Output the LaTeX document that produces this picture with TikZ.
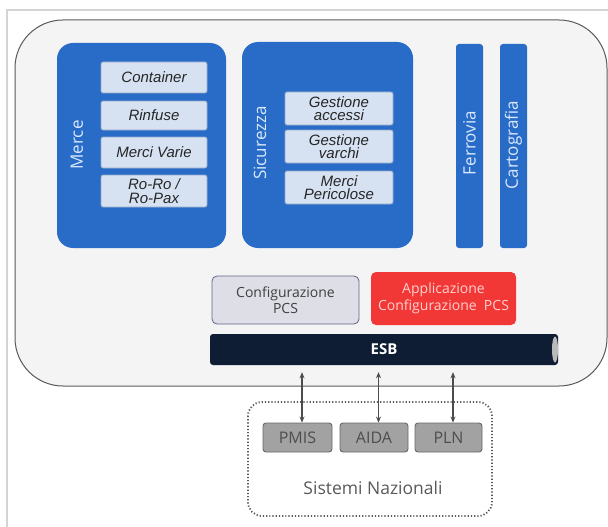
\documentclass[tikz,border=0pt]{standalone}
\usepackage{fontspec}
\setmainfont{Open Sans}
\newfontfamily\arialf{Liberation Sans}
\usetikzlibrary{arrows.meta,shapes.geometric}
\definecolor{mblue}{RGB}{40,108,200}
\definecolor{innerfill}{RGB}{214,226,242}
\definecolor{innerdraw}{RGB}{150,168,198}
\definecolor{lbltext}{RGB}{218,232,252}
\definecolor{cfgfill}{RGB}{222,223,230}
\definecolor{cfgdraw}{RGB}{95,100,135}
\definecolor{appred}{RGB}{242,55,55}
\definecolor{apptext}{RGB}{255,210,205}
\definecolor{esbnavy}{RGB}{14,28,52}
\definecolor{gboxfill}{RGB}{162,162,162}
\definecolor{gboxdraw}{RGB}{105,105,105}
\definecolor{gtext}{RGB}{78,78,78}
\definecolor{framegray}{RGB}{212,212,212}
\definecolor{mainfill}{RGB}{244,244,244}
\definecolor{maindraw}{RGB}{90,90,90}
\tikzset{
  px/.style={x=1pt,y=-1pt},
  group/.style={fill=mblue, draw=none, rounded corners=16pt},
  bar/.style={fill=mblue, draw=none, rounded corners=3pt},
  inner/.style={fill=innerfill, draw=innerdraw, line width=0.8pt, rounded corners=2pt,
    font=\arialf\itshape\fontsize{15}{13.5}\selectfont, text=black!85, align=center},
  vlabel/.style={text=lbltext, font=\fontsize{17}{20}\selectfont, rotate=90},
  gbox/.style={fill=gboxfill, draw=gboxdraw, line width=0.9pt, rounded corners=3pt,
    text=gtext, font=\fontsize{16}{18}\selectfont},
  link/.style={{Stealth[length=6pt,width=5pt]}-{Stealth[length=6pt,width=5pt]}, line width=1.6pt, draw=black!70, shorten >=7pt}
}
\begin{document}
\begin{tikzpicture}[px]
\useasboundingbox (0,0) rectangle (608,527);
% outer frame lines
\draw[framegray, line width=2pt] (7,527) -- (7,10) -- (608,10);
% main container
\path[fill=mainfill, draw=maindraw, line width=1pt, rounded corners=48pt]
  (15,20) rectangle (607,386);
% Merce group
\path[group] (57,43) rectangle (226,248);
\node[vlabel] (merce) at (77,145) {Merce};
\node[inner, minimum width=106pt, minimum height=31pt, inner sep=0pt] (container) at (154,77.5) {Container};
\node[inner, minimum width=106pt, minimum height=29pt, inner sep=0pt] (rinfuse) at (154,115.5) {Rinfuse};
\node[inner, minimum width=106pt, minimum height=31pt, inner sep=0pt] (mvarie) at (154,152.5) {Merci Varie};
\node[inner, minimum width=106pt, minimum height=32pt, inner sep=0pt] (roro) at (154,191) {Ro-Ro /\\Ro-Pax};
% Sicurezza group
\path[group] (242,42) rectangle (413,248);
\node[vlabel] (sicurezza) at (260,143) {Sicurezza};
\node[inner, minimum width=108pt, minimum height=33pt, inner sep=0pt] (accessi) at (339,108.5) {Gestione\\accessi};
\node[inner, minimum width=108pt, minimum height=33pt, inner sep=0pt] (varchi) at (339,146.5) {Gestione\\varchi};
\node[inner, minimum width=108pt, minimum height=33pt, inner sep=0pt] (pericolose) at (339,187.5) {Merci\\Pericolose};
% bars
\path[bar] (456,44) rectangle (483,248);
\node[vlabel] (ferrovia) at (469.5,143) {Ferrovia};
\path[bar] (500,44) rectangle (527,248);
\node[vlabel] (cartografia) at (513.5,145) {Cartografia};
% configuration boxes
\node[fill=cfgfill, draw=cfgdraw, line width=0.8pt, rounded corners=5pt,
  minimum width=147pt, minimum height=48pt, inner sep=0pt, align=center,
  text=black!75, font=\fontsize{14}{16}\selectfont] (cfg) at (285.5,300) {Configurazione\\PCS};
\node[fill=appred, draw=none, rounded corners=5pt,
  minimum width=145pt, minimum height=53pt, inner sep=0pt, align=center,
  text=apptext, font=\fontsize{14}{17}\selectfont] (app) at (443.5,298.5) {Applicazione\\Configurazione\ \ PCS};
% ESB
\node[fill=esbnavy, draw=none, rounded corners=3pt, minimum width=348pt, minimum height=31pt,
  inner sep=0pt, text=white, font=\bfseries\fontsize{15}{17}\selectfont] (esb) at (384,349.5) {ESB};
\path[fill=gray!55] (555,349.5) ellipse [x radius=3pt, y radius=13pt];
% Sistemi Nazionali
\draw[black!65, line width=1.8pt, dash pattern=on 1.2pt off 2pt, rounded corners=14pt]
  (248,402) rectangle (492,516);
\node[gbox, minimum width=69pt, minimum height=29pt, inner sep=0pt] (pmis) at (297.5,437.5) {PMIS};
\node[gbox, minimum width=68pt, minimum height=29pt, inner sep=0pt] (aida) at (374,437.5) {AIDA};
\node[gbox, minimum width=67pt, minimum height=29pt, inner sep=0pt] (pln) at (448.5,437.5) {PLN};
\node[text=black!65, font=\fontsize{17.5}{20}\selectfont] (sisnaz) at (373,488) {Sistemi Nazionali};
% links
\coordinate (lp) at ([xshift=4.5pt]pmis.north);
\coordinate (la) at ([xshift=4.5pt]aida.north);
\coordinate (ll) at ([xshift=4.5pt]pln.north);
\draw[link] (lp) -- (lp |- esb.south);
\draw[link] (la) -- (la |- esb.south);
\draw[link] (ll) -- (ll |- esb.south);
\end{tikzpicture}
\end{document}
